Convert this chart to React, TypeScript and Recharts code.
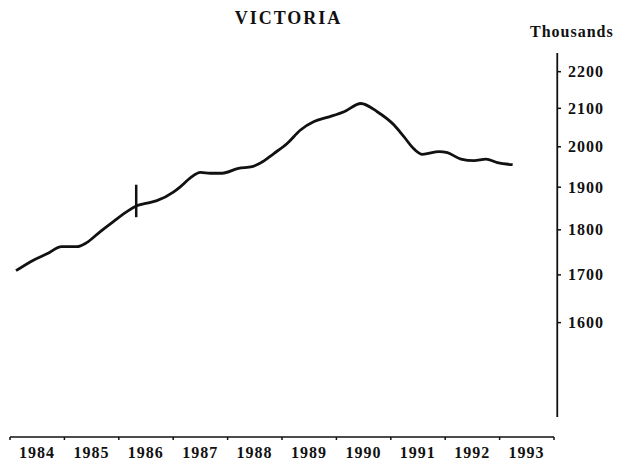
import { LineChart, Line, XAxis, YAxis, ReferenceLine } from 'recharts';

// tick labels
const years = [1984, 1985, 1986, 1987, 1988, 1989, 1990, 1991, 1992, 1993];
const yearTicks = [1984, 1985, 1986, 1987, 1988, 1989, 1990, 1991, 1992, 1993, 1994];
const popTicks = [1600, 1700, 1800, 1900, 2000, 2100, 2200];

// series: time (fractional year) and population in thousands
const quarters = [
  1984.11, 1984.43, 1984.68, 1984.95, 1985.23, 1985.41, 1985.66, 1985.9, 1986.15, 1986.32,
  1986.52, 1986.7, 1987.01, 1987.13, 1987.31, 1987.5, 1987.68, 1987.9, 1988.2, 1988.45,
  1988.6, 1988.85, 1989.1, 1989.34, 1989.59, 1989.83, 1990.14, 1990.45, 1990.75, 1991.06,
  1991.24, 1991.43, 1991.58, 1991.89, 1992.04, 1992.29, 1992.53, 1992.75, 1992.96, 1993.24,
];
const population = [
  1709, 1732, 1746, 1762, 1762, 1771, 1796, 1819, 1842, 1855,
  1862, 1868, 1889, 1901, 1922, 1936, 1934, 1934, 1946, 1950,
  1959, 1983, 2009, 2043, 2065, 2076, 2091, 2113, 2091, 2056,
  2026, 1994, 1981, 1988, 1985, 1969, 1965, 1969, 1960, 1955,
];

// series break marker
const breakAt = 1986.32;
const breakRange = [1829, 1906];

const data = quarters.map((t, i) => ({ t, v: population[i] }));

const FONT = '"Liberation Serif", "Times New Roman", serif';

function XTick(props: any) {
  const { x, y, payload } = props;
  const v = payload.value as number;
  return (
    <g>
      <line x1={x} y1={y} x2={x} y2={y + 3} stroke="#111" strokeWidth={1.5} />
      {years.includes(v) && (
        <text
          x={x + 27}
          y={y + 21}
          textAnchor="middle"
          fontFamily={FONT}
          fontWeight={700}
          fontSize={16}
          letterSpacing={1}
          fill="#111"
        >
          {v}
        </text>
      )}
    </g>
  );
}

function YTick(props: any) {
  const { x, y, payload } = props;
  return (
    <g>
      <line x1={x + 3} y1={y} x2={x + 7} y2={y} stroke="#111" strokeWidth={1.5} />
      <text
        x={x + 14}
        y={y}
        dy={5.5}
        textAnchor="start"
        fontFamily={FONT}
        fontWeight={700}
        fontSize={16}
        letterSpacing={1}
        fill="#111"
      >
        {payload.value}
      </text>
    </g>
  );
}

export default function App() {
  return (
    <div style={{ position: 'absolute', left: 0, top: 0, width: 630, height: 467, background: '#fff' }}>
      <div
        style={{
          position: 'absolute',
          left: 0,
          width: 577,
          top: 8.5,
          textAlign: 'center',
          fontFamily: FONT,
          fontWeight: 700,
          fontSize: 18,
          lineHeight: '18px',
          letterSpacing: 2,
          color: '#111',
        }}
      >
        VICTORIA
      </div>
      <div
        style={{
          position: 'absolute',
          left: 530,
          top: 24,
          fontFamily: FONT,
          fontWeight: 700,
          fontSize: 16,
          lineHeight: '16px',
          letterSpacing: 1,
          color: '#111',
        }}
      >
        Thousands
      </div>
      <LineChart width={630} height={467} data={data} margin={{ top: 53, right: 0, bottom: 0, left: 10 }}>
        <XAxis
          dataKey="t"
          type="number"
          domain={[1984, 1994]}
          ticks={yearTicks}
          allowDataOverflow
          height={30}
          axisLine={{ stroke: '#111', strokeWidth: 1.5 }}
          tickLine={false}
          tickSize={0}
          tickMargin={0}
          tick={<XTick />}
          interval={0}
        />
        <YAxis
          orientation="right"
          scale="log"
          type="number"
          domain={[1383.8, 2252.8]}
          allowDataOverflow
          ticks={popTicks}
          width={76}
          axisLine={false}
          tickLine={false}
          tickSize={0}
          tickMargin={0}
          tick={<YTick />}
          interval={0}
        />
        <ReferenceLine
          segment={[{ x: 1994.06, y: 1419.4 }, { x: 1994.06, y: 2252.8 }]}
          stroke="#111"
          strokeWidth={1.8}
          ifOverflow="visible"
        />
        <ReferenceLine
          segment={[{ x: breakAt, y: breakRange[0] }, { x: breakAt, y: breakRange[1] }]}
          stroke="#111"
          strokeWidth={2.5}
          ifOverflow="visible"
        />
        <Line
          type="monotone"
          dataKey="v"
          stroke="#111"
          strokeWidth={2.8}
          dot={false}
          isAnimationActive={false}
        />
      </LineChart>
    </div>
  );
}
